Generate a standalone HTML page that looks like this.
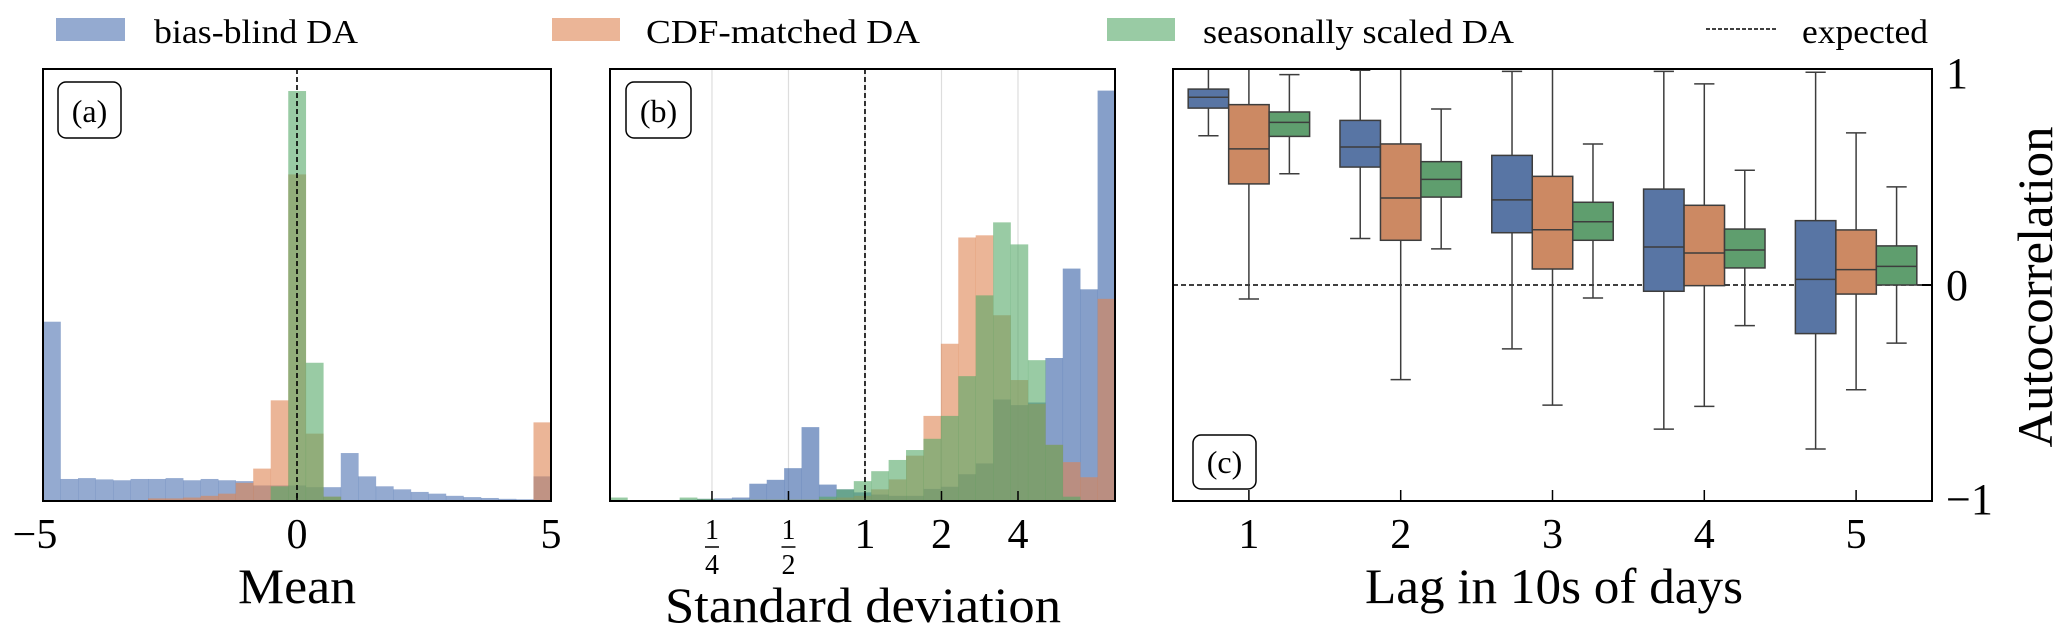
<!DOCTYPE html>
<html><head><meta charset="utf-8"><style>
html,body{margin:0;padding:0;background:#fff;}
svg{display:block;font-family:"Liberation Serif",serif;}
</style></head><body>
<svg id="fig" width="2067" height="641" viewBox="0 0 2067 641" xmlns="http://www.w3.org/2000/svg">
<g id="legend">
  <g><rect x="56" y="18" width="69" height="23" fill="#4c72b0" fill-opacity="0.6"/><text x="154" y="43" font-size="34" textLength="204" lengthAdjust="spacingAndGlyphs">bias-blind DA</text></g>
  <g><rect x="552" y="18" width="68" height="23" fill="#dd8452" fill-opacity="0.6"/><text x="646" y="43" font-size="34" textLength="274" lengthAdjust="spacingAndGlyphs">CDF-matched DA</text></g>
  <g><rect x="1107" y="18" width="68" height="23" fill="#55a868" fill-opacity="0.6"/><text x="1203" y="43" font-size="34" textLength="311" lengthAdjust="spacingAndGlyphs">seasonally scaled DA</text></g>
  <g><line x1="1706" y1="29" x2="1776" y2="29" stroke="#000" stroke-width="1.5" stroke-dasharray="4,2"/><text x="1802" y="43" font-size="34" textLength="126" lengthAdjust="spacingAndGlyphs">expected</text></g>
</g>
<g id="pa"></g>
<g id="pb"></g>
<g id="pc"></g>
</svg>
<script>
// ---------- data ----------
const meanBinLo = -5, meanBinHi = 5;
const meanBlind = [41.5,5.1,5.3,5.0,4.8,5.1,5.1,5.3,4.8,5.1,4.8,4.6,3.6,3.6,3.6,3.2,3.2,11.1,5.7,3.4,2.7,2.1,1.7,1.2,0.9,0.7,0.5,0.4,5.7];
const meanCdf = [0.1,0.1,0.1,0.1,0.1,0.1,0.6,0.6,0.8,1.2,1.7,4.2,7.5,23.3,75.6,15.6,1.0,0.1,0.1,0.1,0.1,0.1,0.1,0.1,0.1,0.1,0.1,0.1,18.2];
const meanSeas = [0.1,0.1,0.1,0.1,0.1,0.1,0.1,0.1,0.1,0.1,0.1,0.1,0.1,3.4,94.9,32.0,1.0,0.2,0.2,0.2,0.2,0.2,0.2,0.2,0.2,0.2,0.2,0.2,0.2];
const meanTicks = [-5,0,5];

const sdBinLo = -3.333, sdBinHi = 3.268; // log2 units
const sdBlind = [0,0,0,0.1,0.3,0.5,0.6,0.8,4.0,4.9,7.6,17.1,3.8,2.7,2.0,1.5,1.2,1.2,2.8,3.3,6.2,8.7,23.5,22.2,22.8,33.1,53.8,49.0,95.0];
const sdCdf = [0,0,0,0,0.2,0.3,0.2,0.2,0.3,0.3,0.3,0.3,0.5,0.8,1.2,2.7,5.0,10.5,19.7,36.4,61.0,61.5,43.0,28.0,22.5,13.0,9.0,5.5,46.8];
const sdSeas = [0.8,0,0,0.2,0.8,0.5,0.3,0.3,0.3,0.3,0.3,0.3,1.0,2.7,4.6,6.9,9.5,11.8,14.4,19.7,28.9,47.6,64.5,59.4,32.6,13.0,1.0,0,0];
const sdTicks = [0.25,0.5,1,2,4];

const lags = [1,2,3,4,5];
// [lowWhisker, q1, median, q3, highWhisker]
const acBlind = [[0.691,0.819,0.869,0.907,1.0],[0.215,0.546,0.639,0.762,0.994],[-0.296,0.242,0.394,0.600,0.989],[-0.667,-0.029,0.176,0.444,0.989],[-0.759,-0.225,0.026,0.298,0.985]];
const acCdf = [[-0.065,0.468,0.630,0.835,1.0],[-0.438,0.207,0.403,0.653,1.0],[-0.556,0.074,0.256,0.503,1.0],[-0.562,-0.003,0.148,0.369,0.931],[-0.485,-0.042,0.071,0.255,0.704]];
const acSeas = [[0.515,0.688,0.753,0.801,0.974],[0.167,0.407,0.489,0.571,0.815],[-0.060,0.207,0.293,0.383,0.653],[-0.188,0.079,0.162,0.259,0.531],[-0.269,0.0,0.086,0.181,0.454]];
const acTicks = [-1,0,1];

// ---------- helpers ----------
const NS = "http://www.w3.org/2000/svg";
function mk(parent, tag, attrs, text){
  const e = document.createElementNS(NS, tag);
  for (const k in attrs) e.setAttribute(k, attrs[k]);
  if (text !== undefined) e.textContent = text;
  parent.appendChild(e);
  return e;
}
const TOP = 69, BOT = 501;
const hY = h => BOT - h/100*(BOT-TOP);

// ---------- panel a ----------
(function(){
  const g = document.getElementById('pa');
  const L = 43, R = 551;
  const xa = v => L + (v - meanBinLo)/(meanBinHi-meanBinLo)*(R-L);
  const series = [[meanBlind,'#4c72b0','blind'],[meanCdf,'#dd8452','cdf'],[meanSeas,'#55a868','seasonal']];
  series.forEach(([arr,col,nm])=>{
    const n = arr.length, w = (meanBinHi-meanBinLo)/n;
    arr.forEach((h,i)=>{
      const x0 = xa(meanBinLo+i*w), x1 = xa(meanBinLo+(i+1)*w);
      const r = mk(g,'rect',{x:x0,y:hY(h),width:x1-x0+0.3,height:BOT-hY(h),fill:col,'fill-opacity':0.6});
      
      
    });
  });
  const dl = mk(g,'line',{x1:xa(0),x2:xa(0),y1:TOP,y2:BOT,stroke:'#000','stroke-width':1.6,'stroke-dasharray':'5,3'});
  
  
  mk(g,'rect',{x:L,y:TOP,width:R-L,height:BOT-TOP,fill:'none',stroke:'#000','stroke-width':2});
  meanTicks.forEach(t=>{
    mk(g,'line',{x1:xa(t),x2:xa(t),y1:BOT,y2:BOT-8,stroke:'#000','stroke-width':1.5});
    const tl = mk(g,'text',{x:xa(t)-(t<0?8:0),y:548,'font-size':42,'text-anchor':'middle'}, t<0?'\u2212'+(-t):String(t));
    
    
  });
  const xt = mk(g,'text',{x:297,y:603,'font-size':50,'text-anchor':'middle',textLength:118,lengthAdjust:'spacingAndGlyphs'},'Mean');
  
  
  const bx = mk(g,'rect',{x:58,y:82,width:63,height:56,rx:8,fill:'#fff',stroke:'#000','stroke-width':1.5});
  
  
  mk(g,'text',{x:89.5,y:122,'font-size':32,'text-anchor':'middle'},'(a)');
})();

// ---------- panel b ----------
(function(){
  const g = document.getElementById('pb');
  const L = 610, R = 1115;
  const xb = l => L + (l - sdBinLo)/(sdBinHi-sdBinLo)*(R-L);
  sdTicks.forEach(t=>{
    mk(g,'line',{x1:xb(Math.log2(t)),x2:xb(Math.log2(t)),y1:TOP,y2:BOT,stroke:'#dddddd','stroke-width':1.2});
  });
  const series = [[sdBlind,'#4c72b0','blind',0.68],[sdCdf,'#dd8452','cdf',0.6],[sdSeas,'#55a868','seasonal',0.6]];
  series.forEach(([arr,col,nm,op])=>{
    const n = arr.length, w = (sdBinHi-sdBinLo)/n;
    arr.forEach((h,i)=>{
      const x0 = xb(sdBinLo+i*w), x1 = xb(sdBinLo+(i+1)*w);
      const r = mk(g,'rect',{x:x0,y:hY(h),width:x1-x0+0.3,height:BOT-hY(h),fill:col,'fill-opacity':op});
      
      
    });
  });
  const dl = mk(g,'line',{x1:xb(0),x2:xb(0),y1:TOP,y2:BOT,stroke:'#000','stroke-width':1.6,'stroke-dasharray':'5,3'});
  
  
  mk(g,'rect',{x:L,y:TOP,width:R-L,height:BOT-TOP,fill:'none',stroke:'#000','stroke-width':2});
  sdTicks.forEach(t=>{
    const x = xb(Math.log2(t));
    mk(g,'line',{x1:x,x2:x,y1:BOT,y2:BOT-10,stroke:'#000','stroke-width':1.5});
    let tl;
    if (t < 1){
      tl = mk(g,'g',{});
      mk(tl,'text',{x:x,y:539,'font-size':28,'text-anchor':'middle'},'1');
      mk(tl,'line',{x1:x-7,x2:x+7,y1:547,y2:547,stroke:'#000','stroke-width':1.5});
      mk(tl,'text',{x:x,y:574,'font-size':28,'text-anchor':'middle'},String(Math.round(1/t)));
    } else {
      tl = mk(g,'text',{x:x,y:548,'font-size':42,'text-anchor':'middle'},String(t));
    }
    
    
  });
  const xt = mk(g,'text',{x:863,y:622,'font-size':50,'text-anchor':'middle',textLength:396,lengthAdjust:'spacingAndGlyphs'},'Standard deviation');
  
  
  const bx = mk(g,'rect',{x:626,y:82,width:65,height:56,rx:8,fill:'#fff',stroke:'#000','stroke-width':1.5});
  
  
  mk(g,'text',{x:658.5,y:122,'font-size':32,'text-anchor':'middle'},'(b)');
})();

// ---------- panel c ----------
(function(){
  const g = document.getElementById('pc');
  const L = 1173, R = 1932;
  const gw = (R-L)/lags.length;
  const xc = (gi, off) => L + (gi+0.5)*gw + off*gw;
  const yc = v => 285 - v*216;
  const bw = 0.8/3;
  const series = [[acBlind,'#5875a4',-bw,'blind'],[acCdf,'#cc8963',0,'cdf'],[acSeas,'#5f9e6e',bw,'seasonal']];
  const ln = mk(g,'line',{x1:L,x2:R,y1:yc(0),y2:yc(0),stroke:'#000','stroke-width':1.6,'stroke-dasharray':'5,3'});
  
  
  series.forEach(([arr,col,off,nm])=>{
    arr.forEach((s,i)=>{
      const cx = xc(i,off), hw = bw/2*gw;
      const grp = mk(g,'g',{});
      
      
      mk(grp,'line',{x1:cx,x2:cx,y1:yc(s[4]),y2:yc(s[3]),stroke:'#3d3d3d','stroke-width':1.5});
      mk(grp,'line',{x1:cx,x2:cx,y1:yc(s[1]),y2:yc(s[0]),stroke:'#3d3d3d','stroke-width':1.5});
      mk(grp,'line',{x1:cx-hw/2,x2:cx+hw/2,y1:yc(s[4]),y2:yc(s[4]),stroke:'#3d3d3d','stroke-width':1.5});
      mk(grp,'line',{x1:cx-hw/2,x2:cx+hw/2,y1:yc(s[0]),y2:yc(s[0]),stroke:'#3d3d3d','stroke-width':1.5});
      mk(grp,'rect',{x:cx-hw,y:yc(s[3]),width:2*hw,height:yc(s[1])-yc(s[3]),fill:col,stroke:'#3d3d3d','stroke-width':1.5});
      mk(grp,'line',{x1:cx-hw,x2:cx+hw,y1:yc(s[2]),y2:yc(s[2]),stroke:'#3d3d3d','stroke-width':1.5});
    });
  });
  mk(g,'rect',{x:L,y:TOP,width:R-L,height:BOT-TOP,fill:'none',stroke:'#000','stroke-width':2});
  lags.forEach((t,i)=>{
    mk(g,'line',{x1:xc(i,0),x2:xc(i,0),y1:BOT,y2:BOT-11,stroke:'#000','stroke-width':1.5});
    const tl = mk(g,'text',{x:xc(i,0),y:548,'font-size':42,'text-anchor':'middle'},String(t));
    
    
  });
  acTicks.forEach(t=>{
    mk(g,'line',{x1:R,x2:R-10,y1:yc(t),y2:yc(t),stroke:'#000','stroke-width':2});
    const tl = mk(g,'text',{x:1946,y:yc(t)+15+(t===1?4:0)+(t===-1?-2:0),'font-size':44},t<0?'\u2212'+(-t):String(t));
    
    
  });
  const xt = mk(g,'text',{x:1554,y:603,'font-size':50,'text-anchor':'middle',textLength:378,lengthAdjust:'spacingAndGlyphs'},'Lag in 10s of days');
  
  
  const yt = mk(g,'text',{x:0,y:0,'font-size':50,'text-anchor':'middle',textLength:321,lengthAdjust:'spacingAndGlyphs',transform:'translate(2052,287) rotate(-90)'},'Autocorrelation');
  
  
  const bx = mk(g,'rect',{x:1193,y:435,width:63,height:54,rx:8,fill:'#fff',stroke:'#000','stroke-width':1.5});
  
  
  mk(g,'text',{x:1224.5,y:473,'font-size':32,'text-anchor':'middle'},'(c)');
})();
</script>
</body></html>
